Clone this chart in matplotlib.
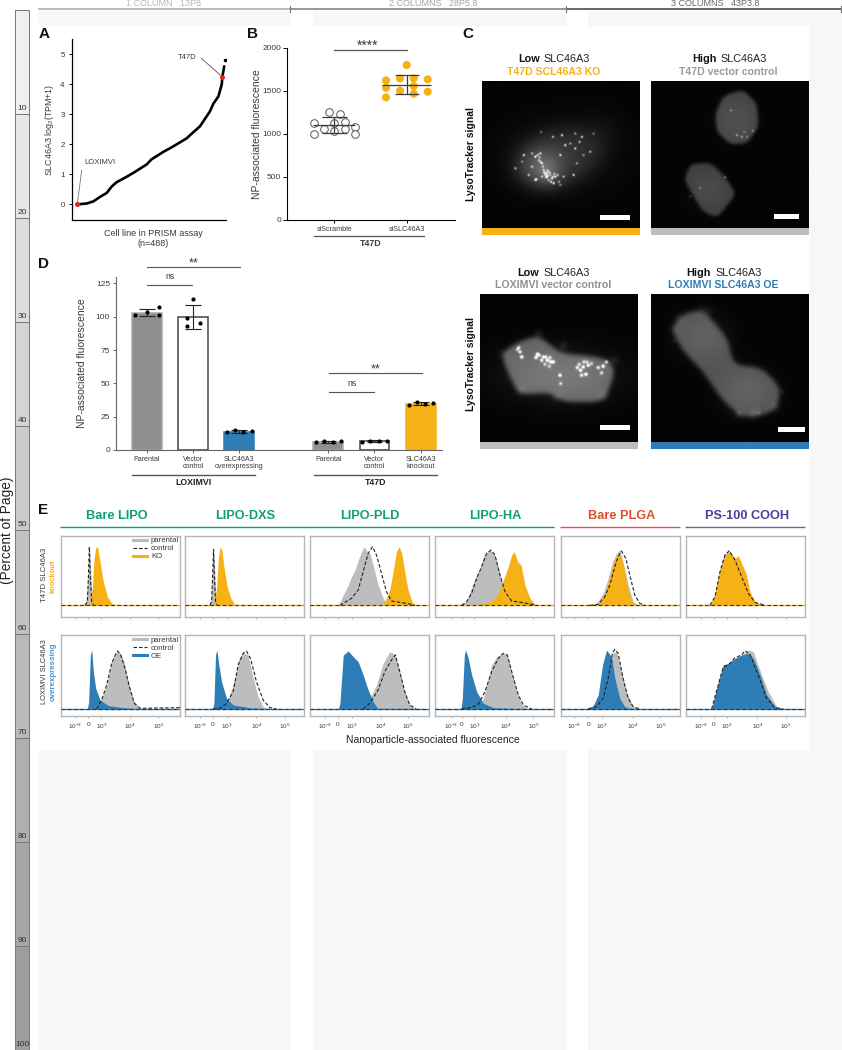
import numpy as np
import matplotlib
matplotlib.use("Agg")
import matplotlib.pyplot as plt
from matplotlib.patches import Rectangle
from matplotlib.path import Path
from matplotlib.lines import Line2D

plt.rcParams['font.family'] = ['Liberation Sans', 'DejaVu Sans']
plt.rcParams['mathtext.fontset'] = 'custom'
plt.rcParams['mathtext.rm'] = 'Liberation Sans'
plt.rcParams['mathtext.it'] = 'Liberation Sans'
plt.rcParams['mathtext.bf'] = 'Liberation Sans:bold'
plt.rcParams['mathtext.default'] = 'regular'

W, H = 842, 1050
ORANGE = '#f6b116'; BLUE = '#2f7db6'; GRAY = '#bcbdbf'; DARK = '#3a3a3a'
GREEN = '#0e9f78'; RED = '#dc5028'; PURPLE = '#45409a'

# ---- panel A
rank = [1, 32, 54, 76, 98, 115, 131, 164, 186, 230, 246, 285, 307, 329, 362, 378, 406, 439, 450, 467, 478, 480, 486]
tpm = [0, 0.03, 0.1, 0.25, 0.38, 0.6, 0.74, 0.92, 1.05, 1.33, 1.5, 1.75, 1.87, 2.0, 2.2, 2.35, 2.6, 3.1, 3.35, 3.6, 4.0, 4.25, 4.6]
top_rank, top_tpm = 488, 4.8
hilite_rank = [1, 480]; hilite_tpm = [0, 4.25]

# ---- panel B
b_scr_offset = [-0.286, -0.286, -0.07, 0.08, -0.14, 0, 0, 0.147, 0.147, 0.29, 0.29]
b_scr = [1128, 996, 1256, 1225, 1058, 1128, 1035, 1140, 1058, 1074, 996]
b_si_offset = [-0.286, -0.286, -0.286, -0.092, -0.092, 0, 0.097, 0.097, 0.097, 0.29, 0.29]
b_si = [1620, 1535, 1422, 1643, 1500, 1798, 1643, 1554, 1465, 1632, 1488]
b_means = [1097, 1570]; b_low = [1008, 1465]; b_high = [1190, 1682]
b_labels = ['siScramble', 'siSLC46A3']

# ---- panel D
d_pos = [0, 1, 2, 3.94, 4.94, 5.95]
d_labels = ['Parental', 'Vector\ncontrol', 'SLC46A3\noverexpressing', 'Parental', 'Vector\ncontrol', 'SLC46A3\nknockout']
d_height = [102.5, 99.5, 13.5, 6, 6.5, 34.5]
d_err_low = [100.5, 91, 12.8, 5.3, 6, 33.8]
d_err_high = [106, 108.5, 14.8, 6.8, 7.2, 36]
d_offsets = [[-0.26, 0, 0.27, 0.27], [-0.13, 0, -0.13, 0.14], [-0.27, -0.09, 0.09, 0.27],
             [-0.27, -0.09, 0.09, 0.27], [-0.27, -0.09, 0.09, 0.27], [-0.27, -0.09, 0.09, 0.27]]
d_points = [[101.25, 103.75, 107.5, 101.25], [98.75, 113, 93, 95.25], [13.25, 14.75, 13.5, 14],
            [5.75, 6.5, 6, 6.5], [6.25, 7, 7, 7], [33.75, 36, 34.75, 35.25]]

# ---- panel E: (channel, normalised count) for each histogram
bl_t_par = ([70, 78, 83, 87, 92, 97], [0, 20, 100, 165, 60, 0])
bl_t_ctl = ([73, 80, 83, 86, 89, 93, 98], [0, 11, 81, 176, 81, 11, 1])
bl_t_ko = ([78, 88, 95, 100, 106, 111, 118, 128, 140, 153, 168], [0, 9, 51, 141, 176, 173, 131, 71, 26, 6, 0])
dx_t_par = ([72, 78, 82, 86, 90, 95], [0, 20, 100, 160, 60, 0])
dx_t_ctl = ([74, 79, 82, 85, 88, 91, 96], [0, 11, 81, 168, 81, 11, 1])
dx_t_ko = ([79, 87, 94, 100, 105, 110, 116, 126, 137, 149, 159], [0, 6, 51, 146, 176, 166, 116, 56, 21, 3, 0])
pl_t_par = ([85, 100, 115, 125, 135, 145, 155, 163, 172, 180, 190, 205, 220, 235, 255], [0, 31, 61, 86, 106, 136, 161, 176, 161, 156, 121, 61, 21, 3, 0])
pl_t_ctl = ([90, 105, 125, 145, 160, 175, 188, 200, 215, 230, 245, 270, 295, 315], [0, 9, 21, 46, 101, 156, 176, 151, 96, 41, 13, 9, 5, 0])
pl_t_ko = ([220, 230, 240, 250, 260, 268, 276, 285, 295, 308, 320], [0, 21, 46, 101, 161, 176, 156, 101, 46, 9, 0])
ha_t_par = ([80, 95, 105, 120, 135, 145, 155, 165, 180, 193, 205, 217, 235, 255], [0, 13, 41, 81, 111, 146, 159, 166, 151, 101, 51, 21, 3, 0])
ha_t_ctl = ([80, 95, 110, 125, 140, 155, 168, 180, 195, 210, 230, 265, 290, 305], [0, 11, 36, 81, 116, 156, 166, 151, 91, 41, 13, 8, 3, 0])
ha_t_ko = ([105, 145, 170, 190, 205, 220, 230, 238, 248, 258, 270, 285, 300, 315], [0, 5, 13, 36, 76, 116, 151, 161, 131, 121, 61, 21, 3, 0])
pg_t_par = ([86, 106, 126, 141, 154, 166, 176, 188, 201, 216, 231], [0, 6, 36, 81, 131, 156, 166, 121, 61, 11, 1])
pg_t_ctl = ([86, 111, 131, 146, 161, 171, 181, 194, 206, 221, 236, 251], [0, 3, 26, 61, 116, 146, 163, 141, 91, 31, 6, 0])
pg_t_ko = ([96, 116, 131, 146, 158, 168, 178, 188, 198, 213, 226], [0, 9, 36, 86, 131, 151, 153, 116, 56, 11, 0])
ps_t_par = ([72, 87, 102, 114, 130, 147, 167, 187, 207, 232], [0, 31, 106, 153, 163, 141, 91, 41, 9, 0])
ps_t_ctl = ([72, 87, 102, 117, 130, 147, 167, 187, 207, 237], [0, 26, 101, 151, 164, 136, 86, 36, 9, 0])
ps_t_ko = ([74, 87, 102, 117, 132, 147, 157, 167, 180, 192, 207, 232], [0, 31, 106, 149, 161, 141, 149, 126, 96, 41, 11, 0])

bl_l_par = ([108, 123, 138, 153, 166, 178, 190, 203, 218, 233, 253], [0, 32, 72, 142, 170, 170, 142, 82, 27, 4, 0])
bl_l_ctl = ([108, 123, 138, 153, 166, 171, 180, 193, 206, 221, 238, 358], [0, 27, 72, 137, 167, 174, 162, 122, 67, 17, 2, 4])
bl_l_oe = ([80, 84, 89, 93, 98, 105, 118, 143, 188, 238], [0, 22, 162, 177, 112, 62, 27, 10, 4, 0])
dx_l_par = ([114, 134, 149, 162, 174, 189, 202, 219, 234, 254], [0, 42, 92, 152, 169, 162, 102, 37, 7, 0])
dx_l_ctl = ([84, 109, 124, 144, 159, 174, 184, 196, 214, 234, 254, 274], [0, 4, 17, 52, 132, 167, 174, 152, 82, 27, 4, 0])
dx_l_oe = ([82, 86, 91, 95, 101, 109, 124, 144, 194, 254], [0, 17, 162, 177, 132, 82, 32, 12, 4, 0])
pl_l_par = ([160, 180, 200, 220, 240, 255, 270, 285, 300, 315], [0, 32, 72, 137, 172, 164, 112, 52, 12, 0])
pl_l_ctl = ([160, 180, 205, 225, 245, 257, 270, 285, 300, 320], [0, 17, 57, 112, 147, 162, 112, 52, 12, 0])
pl_l_oe = ([85, 90, 100, 115, 130, 145, 160, 175, 190, 205], [0, 17, 162, 174, 157, 142, 102, 57, 22, 0])
ha_l_par = ([125, 145, 160, 170, 185, 205, 217, 230, 245, 260, 280], [0, 32, 92, 132, 157, 167, 162, 112, 52, 14, 0])
ha_l_ctl = ([80, 110, 130, 150, 170, 190, 205, 217, 233, 250, 265, 290], [0, 5, 14, 52, 112, 152, 167, 162, 102, 42, 12, 0])
ha_l_oe = ([78, 82, 88, 92, 100, 110, 125, 145, 175, 275], [0, 32, 162, 177, 152, 102, 52, 17, 4, 0])
pg_l_par = ([106, 131, 141, 154, 166, 181, 196, 216, 231], [0, 22, 102, 167, 172, 112, 52, 7, 0])
pg_l_ctl = ([81, 106, 126, 141, 154, 161, 171, 186, 201, 216, 236], [0, 7, 32, 92, 167, 179, 167, 92, 32, 7, 0])
pg_l_oe = ([76, 96, 111, 124, 136, 151, 161, 176, 191, 211], [0, 10, 42, 132, 177, 157, 92, 32, 7, 0])
ps_l_par = ([77, 92, 112, 147, 187, 202, 227, 247, 272, 297], [0, 52, 122, 147, 177, 172, 102, 52, 7, 0])
ps_l_ctl = ([77, 87, 112, 127, 147, 167, 177, 192, 222, 242, 267, 292], [0, 37, 127, 132, 154, 162, 175, 164, 87, 32, 4, 0])
ps_l_oe = ([77, 92, 112, 127, 147, 167, 187, 202, 222, 242, 267, 292], [0, 62, 132, 137, 152, 162, 167, 152, 102, 42, 7, 0])

e_titles = ['Bare LIPO', 'LIPO-DXS', 'LIPO-PLD', 'LIPO-HA', 'Bare PLGA', 'PS-100 COOH']
e_tick_labels = ['$10^{-3}$', '0', '$10^{3}$', '$10^{4}$', '$10^{5}$']
e_ticks = [[42, 83, 122, 208, 293], [44, 82, 124, 214, 299], [45, 84, 125, 213, 295],
           [47, 80, 118, 212, 295], [38, 81, 121, 216, 298], [45, 83, 122, 214, 299]]

# ---- microscopy stand-ins: spot lists in image coordinates
c1_spots = [(242, 335), (278, 350), (305, 345), (345, 340), (365, 350), (400, 340), (358, 365), (190, 405), (215, 400),
            (240, 400), (235, 420), (245, 430), (225, 410), (250, 450), (260, 460), (270, 465), (255, 465), (285, 470),
            (265, 480), (225, 480), (300, 495), (310, 470), (340, 465), (350, 430), (345, 385), (370, 405), (390, 395),
            (280, 490), (245, 470), (165, 445), (185, 425), (205, 465), (315, 375), (330, 370), (300, 405), (238, 412),
            (262, 452), (275, 475), (292, 465), (228, 478), (248, 440), (232, 405), (258, 472), (268, 458), (272, 486),
            (282, 462), (240, 425), (252, 458), (296, 486), (262, 468), (278, 470), (215, 440)]
c2_spots = [(852, 335), (878, 332), (830, 345), (720, 505), (795, 472), (690, 530), (812, 270), (845, 350), (860, 350)]
c3_spots = [(172, 268), (180, 275), (185, 290), (176, 262), (228, 292), (238, 285), (250, 290), (262, 300), (270, 292), (280, 305),
            (268, 318), (245, 300), (232, 282), (258, 290), (272, 305), (255, 312), (352, 322), (362, 330), (372, 305), (385, 315),
            (395, 310), (365, 345), (378, 342), (358, 312), (370, 320), (382, 305), (415, 322), (430, 318), (425, 338), (300, 345),
            (302, 370), (440, 305)]
c4_spots = [(640, 240), (965, 395), (895, 458), (835, 460)]
c1_poly = [(150, 470), (190, 385), (260, 330), (350, 320), (440, 360), (420, 430), (330, 500), (240, 510)]
c2_poly_a = [(765, 280), (790, 225), (850, 208), (890, 250), (895, 320), (860, 370), (810, 372), (770, 335)]
c2_poly_b = [(672, 480), (690, 432), (750, 428), (790, 465), (828, 522), (770, 596), (725, 572)]
c3_poly = [(118, 280), (165, 250), (235, 222), (300, 280), (370, 285), (440, 295), (470, 320), (445, 395), (435, 425),
           (300, 425), (280, 395), (175, 405), (150, 350)]
c4_poly = [(628, 205), (680, 150), (735, 155), (805, 240), (815, 315), (900, 320), (965, 385), (945, 455), (850, 475),
           (790, 425), (720, 325), (670, 275)]
bumps3 = [(130, 280), (180, 392), (290, 412), (432, 408), (462, 300), (310, 258), (235, 222)]
bumps4 = [(655, 175), (720, 152), (740, 155), (835, 462), (880, 460), (945, 440), (640, 205)]


def axpx(x0, y0, x1, y1, **kw):
    return fig.add_axes([x0 / W, 1 - y1 / H, (x1 - x0) / W, (y1 - y0) / H], **kw)


def blur(a, s):
    ny, nx = a.shape
    fy = np.fft.fftfreq(ny)[:, None]; fx = np.fft.rfftfreq(nx)[None, :]
    return np.fft.irfft2(np.fft.rfft2(a) * np.exp(-2 * (np.pi * s) ** 2 * (fx ** 2 + fy ** 2)), s=a.shape)


def micro(x0, y0, x1, y1, polys, spots, bumps=(), glow=(), spot_amp=0.8, spot_s=3.0, edge=6, soft=2.5):
    xs = np.arange(x0, x1, 1.5); ys = np.arange(y0, y1, 1.5)
    X, Y = np.meshgrid(xs, ys)
    pts = np.c_[X.ravel(), Y.ravel()]
    img = np.full(X.shape, 0.015)
    for poly, lev in polys:
        m = Path(poly).contains_points(pts).reshape(X.shape).astype(float)
        m = blur(m, edge)
        m = np.clip((m - 0.38) / 0.24, 0, 1)
        m = blur(m * m * (3 - 2 * m), soft)
        img += m * lev
    for (bx, by) in bumps:
        img += 0.08 * np.exp(-((X - bx) ** 2 + (Y - by) ** 2) / (2 * 10 ** 2))
    for (gx, gy, sx, sy, a) in glow:
        img += a * np.exp(-(X - gx) ** 2 / (2 * sx ** 2) - (Y - gy) ** 2 / (2 * sy ** 2))
    for i, (sx, sy) in enumerate(spots):
        img += spot_amp * (0.55 + 0.45 * ((i * 7) % 5) / 4) * np.exp(-((X - sx) ** 2 + (Y - sy) ** 2) / (2 * spot_s ** 2))
    return img


def show(px, ext, img, bar, strip):
    ax = axpx(*px)
    ax.imshow(img, cmap='gray', vmin=0, vmax=1, extent=(ext[0], ext[1], ext[3], ext[2]), aspect='auto', interpolation='bilinear')
    ax.add_patch(Rectangle((bar[0], bar[2]), bar[1] - bar[0], bar[3] - bar[2], color='white', lw=0))
    ax.axis('off')
    pg.add_patch(Rectangle((px[0], px[3]), px[2] - px[0], 6.5, color=strip, lw=0))


fig = plt.figure(figsize=(W / 100, H / 100), dpi=100, facecolor='white')

# page furniture behind everything
bg = fig.add_axes([0, 0, 1, 1], zorder=-5); bg.set_xlim(0, W); bg.set_ylim(H, 0); bg.axis('off')
for (a, b) in [(38, 291), (313, 567), (588, 842)]:
    bg.add_patch(Rectangle((a, 11), b - a, 1039, color='#f6f8f7', lw=0))
bg.add_patch(Rectangle((38, 25.5), 772, 724, color='white', lw=0))
for (a, b, c) in [(38, 290, '#b5b5b5'), (290, 566, '#8f8f8f'), (566, 842, '#5a5a5a')]:
    bg.plot([a, b], [9, 9], color=c, lw=1.3, solid_capstyle='butt')
for xv in (290, 566, 841):
    bg.plot([xv, xv], [6, 12], color='#777777', lw=0.8)
for txt, xc, c in [('1 COLUMN   13P8', 164, '#b9b9b9'), ('2 COLUMNS   28P5.8', 433, '#a5a5a5'), ('3 COLUMNS   43P3.8', 715, '#666666')]:
    bg.text(xc, 3.5, txt, color=c, fontsize=6.5, ha='center', va='center')
for i in range(10):
    y0 = 10 + i * 104; shade = 0.94 - i * 0.036
    bg.add_patch(Rectangle((15, y0), 14, 104, facecolor=(shade, shade, shade), edgecolor='#777777', lw=0.7))
    bg.text(22, y0 + 99, str((i + 1) * 10), fontsize=6, ha='center', va='center', color='#333333')
bg.text(7, 530, '(Percent of Page)', rotation=90, fontsize=9.8, ha='center', va='center', color='#222222')

# overlay in page pixels
pg = fig.add_axes([0, 0, 1, 1], zorder=5); pg.set_xlim(0, W); pg.set_ylim(H, 0); pg.axis('off'); pg.patch.set_alpha(0)

for ltr, x, y in [('A', 39, 34), ('B', 247, 34), ('C', 462, 34), ('D', 38, 264), ('E', 38, 510)]:
    pg.text(x, y, ltr, fontsize=11, fontweight='bold', ha='left', va='center', color='#111111')

# ---- A
ax = axpx(71.7, 39, 225.7, 219.7)
ax.plot(rank, tpm, color='black', lw=1.9, solid_capstyle='round', zorder=2)
ax.plot([top_rank], [top_tpm], 'o', color='black', ms=1.6)
ax.plot(hilite_rank, hilite_tpm, 'o', color='#e0241c', ms=3.6, mew=0, zorder=3)
ax.set_xlim(-17.5, 491); ax.set_ylim(-0.51, 5.51)
ax.set_yticks([0, 1, 2, 3, 4, 5]); ax.set_xticks([])
ax.tick_params(axis='y', labelsize=5.7, length=2.5, width=0.7, pad=2.5, labelcolor=DARK)
for s in ('top', 'right'):
    ax.spines[s].set_visible(False)
for s in ('left', 'bottom'):
    ax.spines[s].set_linewidth(0.9)
ax.set_ylabel('SLC46A3 log$_{2}$(TPM+1)', fontsize=6.4, labelpad=3, color=DARK)
ax.plot([410, 480], [4.87, 4.25], color='#555555', lw=0.6)
ax.plot([15.5, 1], [1.14, 0], color='#777777', lw=0.6)
ax.text(363, 4.88, 'T47D', fontsize=5.5, ha='center', va='center', color=DARK)
ax.text(23, 1.39, 'LOXIMVI', fontsize=5.5, ha='left', va='center', color=DARK)
pg.text(153.5, 233, 'Cell line in PRISM assay', fontsize=6.5, ha='center', va='center', color=DARK)
pg.text(153.5, 244, '(n=488)', fontsize=6.5, ha='center', va='center', color=DARK)

# ---- B
ax = axpx(286.7, 47.7, 455, 219.7)
ax.set_xlim(-0.657, 1.667); ax.set_ylim(0, 2000)
ax.scatter(np.add(0, b_scr_offset), b_scr, s=30, facecolor='white', edgecolor='#555555', lw=0.7, zorder=2)
ax.scatter(np.add(1, b_si_offset), b_si, s=34, facecolor=ORANGE, edgecolor='none', zorder=2)
for i, half, cap in [(0, 0.29, 0.17), (1, 0.335, 0.165)]:
    ax.hlines(b_means[i], i - half, i + half, color=DARK, lw=0.9, zorder=3)
    ax.vlines(i, b_low[i], b_high[i], color=DARK, lw=0.9, zorder=3)
    ax.hlines([b_low[i], b_high[i]], i - cap, i + cap, color=DARK, lw=0.9, zorder=3)
ax.set_xticks([0, 1]); ax.set_xticklabels(b_labels)
ax.set_yticks([0, 500, 1000, 1500, 2000])
ax.tick_params(axis='y', labelsize=6.0, length=3, width=0.7, pad=1, labelcolor=DARK)
ax.tick_params(axis='x', labelsize=5.2, length=2.5, width=0.7, pad=1.8, labelcolor=DARK)
for s in ('top', 'right'):
    ax.spines[s].set_visible(False)
for s in ('left', 'bottom'):
    ax.spines[s].set_linewidth(0.8)
ax.set_ylabel('NP-associated fluorescence', fontsize=7.5, labelpad=0, color=DARK)
ax.plot([0, 1], [2000 - 23, 2000 - 23], color='#555555', lw=0.9, clip_on=False)
pg.text(368, 45.5, '****', fontsize=9.8, ha='center', va='center', color=DARK)
pg.plot([314, 424], [235.7, 235.7], color='#555555', lw=0.9)
pg.text(370.5, 243, 'T47D', fontsize=6.4, fontweight='bold', ha='center', va='center', color=DARK)

# ---- C
c1 = micro(65, 182, 540, 625, [(c1_poly, 0.07)], c1_spots,
           glow=[(300, 405, 95, 65, 0.12), (240, 440, 48, 42, 0.2), (262, 462, 25, 28, 0.1), (420, 330, 55, 45, 0.035)],
           spot_amp=0.85, spot_s=2.3, edge=18, soft=14)
c2 = micro(573, 182, 1047, 625, [(c2_poly_a, 0.25), (c2_poly_b, 0.23)], c2_spots, spot_amp=0.45, spot_s=2.2, edge=7, soft=3,
           glow=[(825, 300, 40, 45, 0.05), (745, 510, 40, 40, 0.05)])
c3 = micro(60, 102, 535, 545, [(c3_poly, 0.36)], c3_spots, bumps=bumps3, spot_amp=0.85, spot_s=3.4, edge=14, soft=4,
           glow=[(300, 345, 130, 60, 0.1)])
c4 = micro(572, 102, 1046, 545, [(c4_poly, 0.3)], c4_spots, bumps=bumps4, spot_amp=0.12, spot_s=4, edge=14, soft=4,
           glow=[(860, 390, 60, 50, 0.07), (730, 230, 60, 50, 0.07)])
show((482, 81, 640, 228), (65, 540, 182, 625), c1, (421, 511, 587, 602), ORANGE)
show((651, 81, 809, 228), (573, 1047, 182, 625), c2, (941, 1016, 584, 598), GRAY)
show((480, 294, 638, 442), (60, 535, 102, 545), c3, (422, 510, 493, 508), GRAY)
show((651, 294, 809, 442), (572, 1046, 102, 545), c4, (953, 1033, 500, 515), BLUE)
for xs, xe, y, w1, l2, xc2, col in [(540, 543.7, 59.3, 'Low', 'T47D SCL46A3 KO', 553.7, ORANGE),
                                    (716.3, 720, 59.3, 'High', 'T47D vector control', 728.7, '#9a9b9d'),
                                    (539.3, 543, 272.7, 'Low', 'LOXIMVI vector control', 553, '#8f9092'),
                                    (711, 715, 272.7, 'High', 'LOXIMVI SLC46A3 OE', 723.7, BLUE)]:
    pg.text(xs, y, w1, fontsize=7.8, fontweight='bold', ha='right', va='center', color='#111111')
    pg.text(xe, y, 'SLC46A3', fontsize=7.8, ha='left', va='center', color='#222222')
    pg.text(xc2, y + 12.4, l2, fontsize=7.6, fontweight='bold', ha='center', va='center', color=col)
for y in (154, 364):
    pg.text(470.7, y, 'LysoTracker signal', rotation=90, fontsize=7.5, fontweight='bold', ha='center', va='center', color='#111111')

# ---- D
ax = axpx(116.3, 276.7, 441.7, 450)
ax.set_xlim(-0.667, 6.4); ax.set_ylim(0, 130)
d_face = ['#8d8e90', 'white', BLUE, '#8d8e90', 'white', ORANGE]
d_edge = ['#a8a9ab', '#444444', BLUE, '#a8a9ab', '#444444', ORANGE]
for i, p in enumerate(d_pos):
    ax.bar(p, d_height[i], width=0.65, color=d_face[i], edgecolor=d_edge[i], lw=1.1, zorder=1)
    ax.vlines(p, d_err_low[i], d_err_high[i], color='#222222', lw=0.8, zorder=2)
    ax.hlines([d_err_low[i], d_err_high[i]], p - 0.17, p + 0.17, color='#222222', lw=0.8, zorder=2)
    ax.scatter(np.add(p, d_offsets[i]), d_points[i], s=9, color='black', zorder=3, lw=0, clip_on=False)
ax.set_xticks(d_pos); ax.set_xticklabels(d_labels)
ax.set_yticks([0, 25, 50, 75, 100, 125])
ax.tick_params(axis='y', labelsize=6.0, length=2.5, width=0.7, pad=2, labelcolor=DARK, color='#666666')
ax.tick_params(axis='x', labelsize=5.1, length=2.5, width=0.7, pad=2, labelcolor=DARK, color='#666666')
for lab in ax.get_xticklabels():
    lab.set_linespacing(1.0)
for s in ('top', 'right'):
    ax.spines[s].set_visible(False)
for s in ('left', 'bottom'):
    ax.spines[s].set_linewidth(0.8); ax.spines[s].set_color('#666666')
ax.set_ylabel('NP-associated fluorescence', fontsize=7.5, labelpad=6.5, color=DARK)
sig_a = [(0, 2.01, 137, '**'), (0, 0.985, 123.5, 'ns'), (3.95, 5.98, 57.5, '**'), (3.95, 4.935, 43.5, 'ns')]
for xa, xb, yv, lab in sig_a:
    ax.plot([xa, xb], [yv, yv], color='#555555', lw=0.8, clip_on=False)
    ax.text((xa + xb) / 2, yv + (3.0 if lab == '**' else 3), lab, fontsize=9 if lab == '**' else 6.3, ha='center',
            va='bottom' if lab == 'ns' else 'center', color=DARK, clip_on=False)
for a, b, t in [(131.7, 255, 'LOXIMVI'), (314, 436.7, 'T47D')]:
    pg.plot([a, b], [474.7, 474.7], color='#555555', lw=1.0)
    pg.text((a + b) / 2, 482.5, t, fontsize=6.3, fontweight='bold', ha='center', va='center', color='#222222')

# ---- E
col_px = [(60.7, 180), (185.3, 304.3), (310, 429), (435, 554.3), (561.3, 680.3), (686, 805.3)]
t47d_sets = [(bl_t_par, bl_t_ctl, bl_t_ko), (dx_t_par, dx_t_ctl, dx_t_ko), (pl_t_par, pl_t_ctl, pl_t_ko),
             (ha_t_par, ha_t_ctl, ha_t_ko), (pg_t_par, pg_t_ctl, pg_t_ko), (ps_t_par, ps_t_ctl, ps_t_ko)]
lox_sets = [(bl_l_par, bl_l_ctl, bl_l_oe), (dx_l_par, dx_l_ctl, dx_l_oe), (pl_l_par, pl_l_ctl, pl_l_oe),
            (ha_l_par, ha_l_ctl, ha_l_oe), (pg_l_par, pg_l_ctl, pg_l_oe), (ps_l_par, ps_l_ctl, ps_l_oe)]


def hist_panel(px, sets, color, ticks, ylim, labelled, name):
    ax = axpx(px[0], px[1], px[2], px[3])
    par, ctl, fg = sets
    ax.fill_between(par[0], par[1], 0, color=GRAY, lw=0, zorder=1)
    ax.fill_between(fg[0], fg[1], 0, color=color, lw=0, zorder=2)
    ax.axhline(0, color=color, lw=1.0, zorder=2)
    ax.axhline(0, color='#333333', lw=0.8, dashes=(3.2, 2.4), zorder=3)
    ax.plot(ctl[0], ctl[1], color='#222222', lw=0.8, dashes=(3.2, 1.8), zorder=4)
    ax.set_xlim(0, 358); ax.set_ylim(*ylim); ax.set_yticks([])
    ax.set_xticks(ticks)
    mins = []
    for t0 in ticks[2:]:
        mins += [t0 + (ticks[3] - ticks[2]) * v for v in (0.3, 0.48, 0.6, 0.7, 0.78, 0.85, 0.9, 0.95)]
    ax.set_xticks([m for m in mins if m < 358], minor=True)
    ax.tick_params(axis='x', which='minor', length=1, width=0.35, color='#888888')
    if labelled:
        ax.set_xticklabels(e_tick_labels)
        ax.tick_params(axis='x', labelsize=4.6, length=1.6, width=0.45, pad=2.2, labelcolor=DARK, color='#888888')
    else:
        ax.set_xticklabels([])
        ax.tick_params(axis='x', length=1.6, width=0.45, color='#888888')
    for s in ax.spines.values():
        s.set_color('#b5b5b5'); s.set_linewidth(1.0)
    if name:
        hs = [Line2D([], [], color=GRAY, lw=2.2), Line2D([], [], color='#222222', lw=0.8, dashes=(3.2, 1.8)),
              Line2D([], [], color=color, lw=2.2)]
        ax.legend(hs, ['parental', 'control', name], loc='upper right', frameon=False, fontsize=5.6, handlelength=1.9,
                  handletextpad=0.45, labelspacing=0.08, borderpad=0, borderaxespad=0.1, labelcolor=DARK,
                  bbox_to_anchor=(1.0, 0.995))
    return ax


for i, (x0, x1) in enumerate(col_px):
    hist_panel((x0, 535.7, x1, 617), t47d_sets[i], ORANGE, e_ticks[i], (-35, 209), False, 'KO' if i == 0 else None)
    hist_panel((x0, 635, x1, 716.3), lox_sets[i], BLUE, e_ticks[i], (-22, 222), True, 'OE' if i == 0 else None)

title_x = [117, 245, 370, 495, 622, 747]
title_c = [GREEN, GREEN, GREEN, GREEN, RED, PURPLE]
for t, xc, c in zip(e_titles, title_x, title_c):
    pg.text(xc, 516, t, fontsize=9.2, fontweight='bold', ha='center', va='center', color=c)
for a, b, c in [(60, 554, GREEN), (560, 680, '#dd5a35'), (685, 805, '#6a62b4')]:
    pg.plot([a, b], [527, 527], color=c, lw=1.0, solid_capstyle='butt')
pg.text(44, 575, 'T47D SLC46A3', rotation=90, fontsize=5.6, ha='center', va='center', color=DARK)
pg.text(53, 576, 'knockout', rotation=90, fontsize=5.4, fontweight='bold', ha='center', va='center', color=ORANGE)
pg.text(44, 672, 'LOXIMVI SLC46A3', rotation=90, fontsize=5.4, ha='center', va='center', color=DARK)
pg.text(53, 672, 'overexpressing', rotation=90, fontsize=5.7, fontweight='bold', ha='center', va='center', color='#4a94cf')
pg.text(432.5, 740, 'Nanoparticle-associated fluorescence', fontsize=7.5, ha='center', va='center', color='#222222')

fig.savefig('out.png', dpi=100, facecolor='white')
